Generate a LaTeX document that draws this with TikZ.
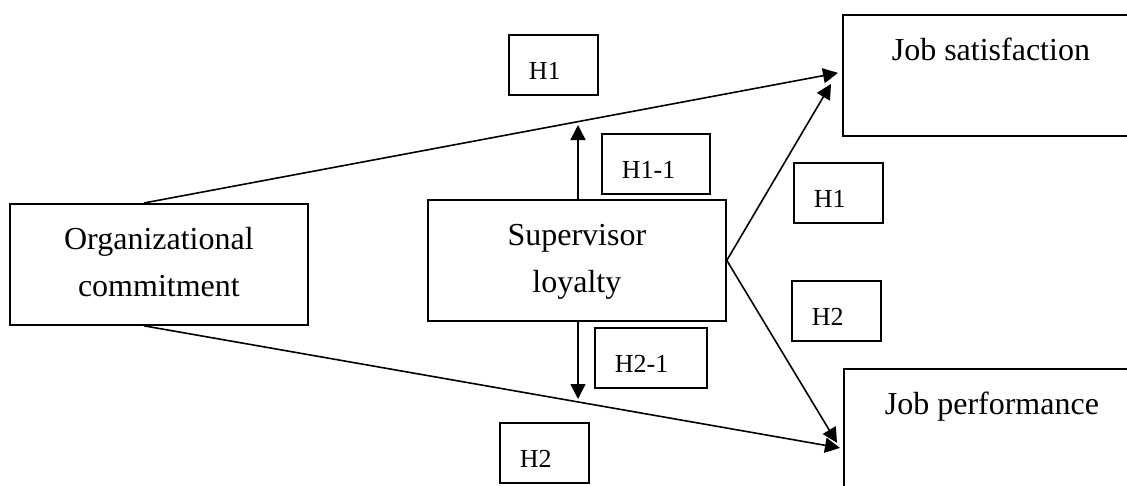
\documentclass[tikz,border=0pt]{standalone}
\usepackage{fontspec}
\setmainfont{Liberation Serif}
\usetikzlibrary{arrows.meta}
\newcommand{\twoline}[2]{\begin{tabular}[t]{@{}c@{}}#1\\#2\end{tabular}}

\begin{document}
\begin{tikzpicture}[x=1pt, y=-1pt,
    varbox/.style={draw, line width=1.8pt, inner sep=0pt, anchor=north west, minimum width=298pt,
      text height=46pt, text depth=75pt, font=\fontsize{32}{47}\selectfont},
    hypbox/.style={draw, line width=1.8pt, inner sep=0pt, anchor=north west, text width=89pt,
      text height=45pt, text depth=15pt, align=left, font=\fontsize{26}{30}\selectfont,
      execute at begin node={\hspace*{20pt}}},
    link/.style={line width=1.6pt, -{Triangle[length=15pt, width=15pt]}}]
  \useasboundingbox (0,0) rectangle (1127,485);
  \node[varbox] (org) at (9,203) {\twoline{Organizational}{commitment}};
  \node[varbox] (sup) at (427,199) {\twoline{Supervisor}{loyalty}};
  \node[varbox, minimum width=296pt] (sat) at (842,14) {Job satisfaction};
  \node[varbox, minimum width=296pt] (perf) at (843,368) {Job performance};
  \node[hypbox] (h1top) at (508,34) {H1};
  \node[hypbox, text width=108pt] (h11) at (601,133) {H1-1};
  \node[hypbox, text width=112pt] (h21) at (594,327) {H2-1};
  \node[hypbox] (h2bot) at (499,422) {H2};
  \node[hypbox] (h1r) at (793,162) {H1};
  \node[hypbox] (h2r) at (791,280) {H2};
  \coordinate (upend) at (578,125);
  \coordinate (downend) at (578,399);
  \draw[link] ([xshift=-15pt]org.north) -- ([xshift=-4pt, yshift=2.5pt]sat.west);
  \draw[link] ([xshift=-15pt]org.south) -- ([xshift=-3pt, yshift=-18.5pt]perf.west);
  \draw[link] (sup.east) -- ([xshift=-11pt, yshift=-8.5pt]sat.west);
  \draw[link] (sup.east) -- ([xshift=-6pt, yshift=-13.5pt]perf.west);
  \draw[link] (sup.north -| upend) -- (upend);
  \draw[link] (sup.south -| downend) -- (downend);
\end{tikzpicture}
\end{document}
